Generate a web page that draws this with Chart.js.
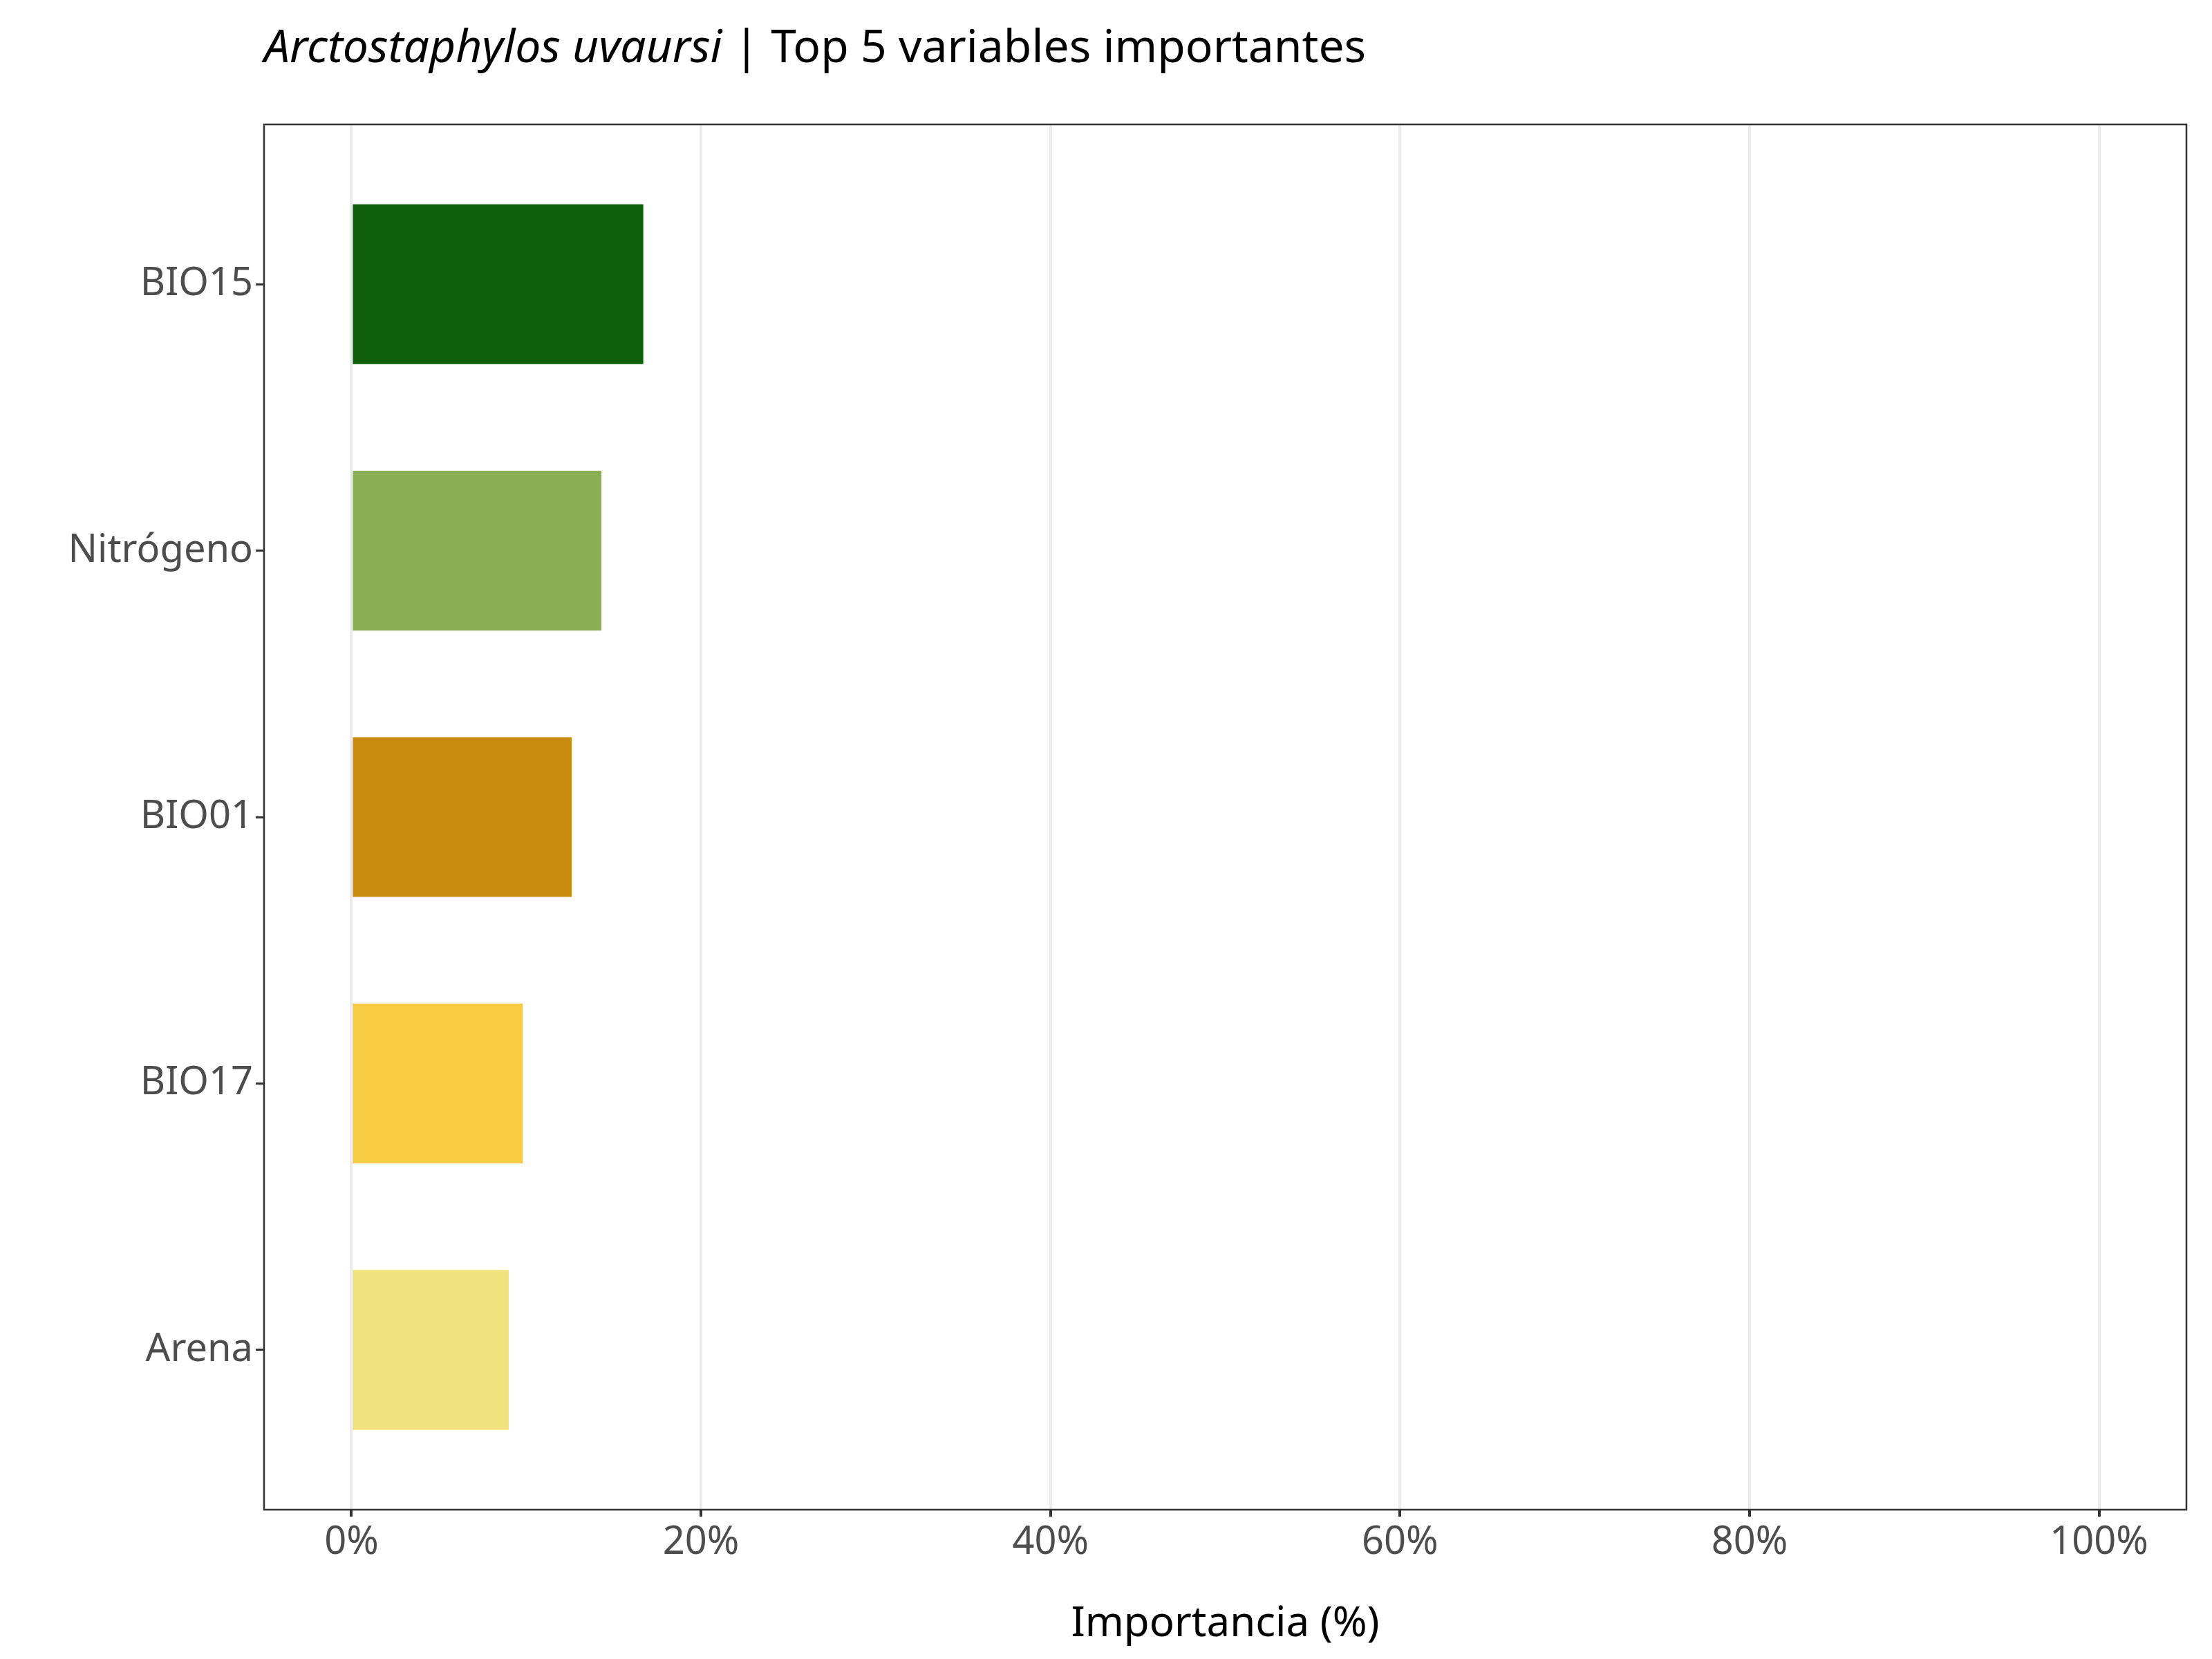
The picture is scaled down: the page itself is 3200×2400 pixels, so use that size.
<!DOCTYPE html>
<html><head><meta charset="utf-8">
<script src="https://cdn.jsdelivr.net/npm/chart.js@4"></script>
<style>html,body{margin:0;padding:0;background:#fff}</style>
</head><body>
<canvas id="c" width="3200" height="2400" style="width:3200px;height:2400px"></canvas>
<script>
const categories = ["BIO15","Nitrógeno","BIO01","BIO17","Arena"];
const values = [16.7, 14.3, 12.6, 9.8, 9.0];
const colors = ["#0f5f0d","#8aae52","#c98c0e","#f7cb42","#efe27c"];
const xTicks = [0,20,40,60,80,100];

const frame = {
  id:'frame',
  afterDraw(chart){
    const {ctx, chartArea:a} = chart;
    ctx.save();
    ctx.strokeStyle='#333'; ctx.lineWidth=2.5;
    ctx.strokeRect(a.left,a.top,a.right-a.left,a.bottom-a.top);
    ctx.textBaseline='alphabetic'; ctx.fillStyle='#000';
    ctx.font='italic 66px "Noto Sans"';
    const t1='Arctostaphylos uvaursi';
    ctx.fillText(t1,382,90);
    const w=ctx.measureText(t1).width;
    ctx.font='66px "Noto Sans"';
    ctx.fillText(' | Top 5 variables importantes',382+w,90);
    ctx.restore();
  }
};

new Chart(document.getElementById('c'),{
  type:'bar',
  data:{datasets:[{
    data: categories.map((c,i)=>({x:values[i], y:i})),
    backgroundColor: colors, barPercentage:0.6, categoryPercentage:1
  }]},
  options:{
    responsive:false, animation:false, indexAxis:'y',
    layout:{padding:{top:180,right:37,left:10,bottom:10}},
    plugins:{legend:{display:false},tooltip:{enabled:false}},
    scales:{
      x:{type:'linear',min:-5,max:105,
        afterBuildTicks:s=>{s.ticks=xTicks.map(v=>({value:v}));},
        afterFit:s=>{s.height=2400-2184-10;},
        grid:{color:'#ebebeb',lineWidth:4,drawTicks:true,tickLength:10,tickColor:'#333'},
        border:{display:false},
        ticks:{color:'#4d4d4d',font:{family:'Noto Sans',size:56},padding:4,callback:v=>v+'%'},
        title:{display:true,text:'Importancia (%)',color:'#000',font:{family:'Noto Sans',size:60},padding:{top:0}}
      },
      y:{type:'linear',min:-0.6,max:4.6,reverse:true,offset:false,
        afterBuildTicks:s=>{s.ticks=categories.map((c,i)=>({value:i}));},
        afterFit:s=>{s.width=382-10;},
        grid:{drawOnChartArea:false,offset:false,tickLength:12,tickColor:'#333',lineWidth:3},
        border:{display:false},
        ticks:{color:'#4d4d4d',font:{family:'Noto Sans',size:56},padding:4,callback:v=>categories[v]}
      }
    }
  },
  plugins:[frame]
});
</script>
</body></html>
